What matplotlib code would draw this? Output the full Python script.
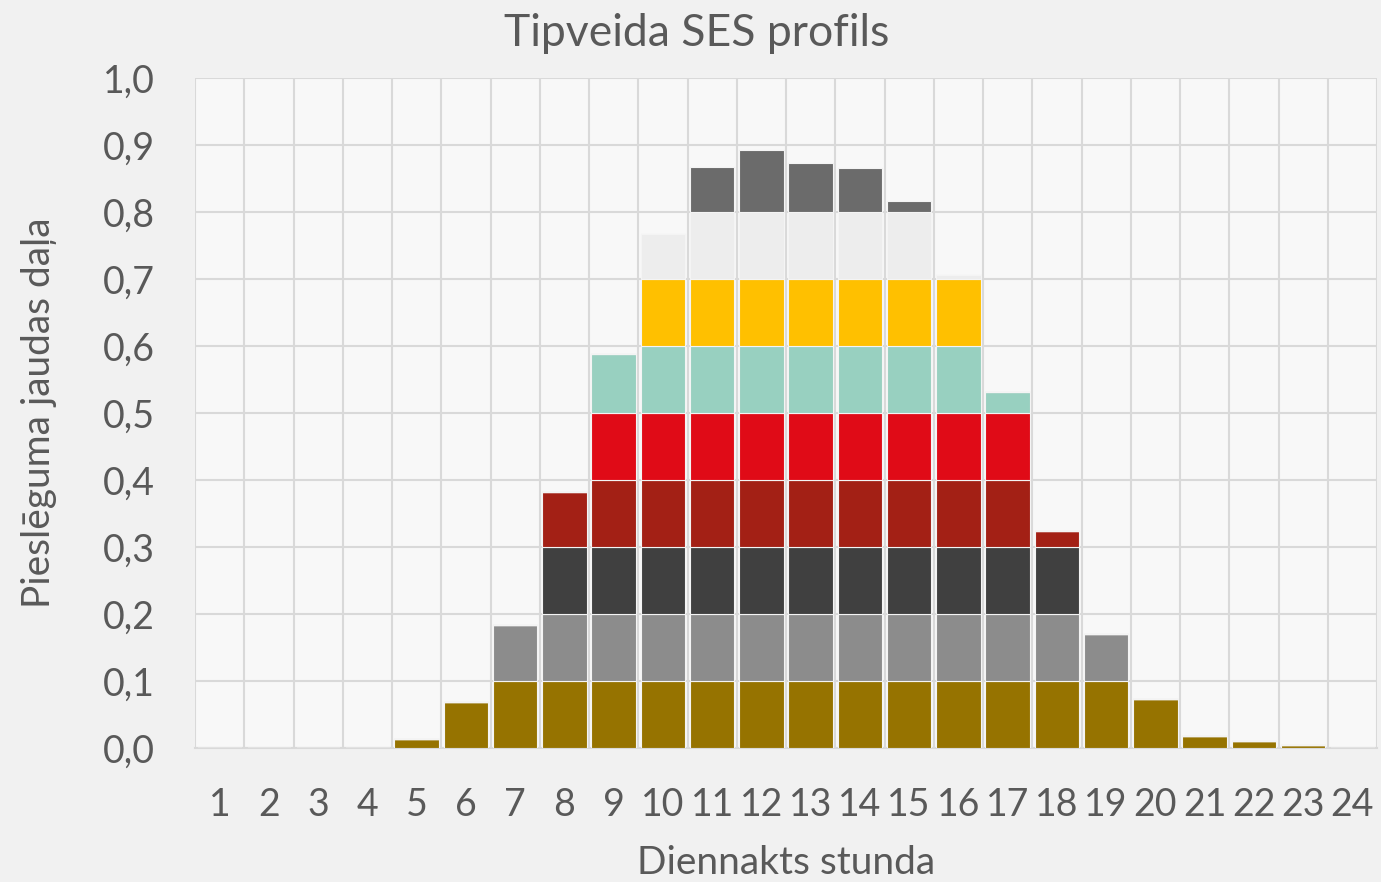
import matplotlib
matplotlib.use("Agg")
import matplotlib.pyplot as plt
from matplotlib.ticker import FixedLocator, FuncFormatter

hours = list(range(1, 25))

# stacked layers (each band 0.1 of connection capacity)
layer1 = [0, 0, 0, 0, 0.014, 0.069, 0.1, 0.1, 0.1, 0.1, 0.1, 0.1, 0.1, 0.1, 0.1, 0.1, 0.1, 0.1, 0.1, 0.073, 0.018, 0.010, 0.004, 0]
layer2 = [0, 0, 0, 0, 0, 0, 0.084, 0.1, 0.1, 0.1, 0.1, 0.1, 0.1, 0.1, 0.1, 0.1, 0.1, 0.1, 0.070, 0, 0, 0, 0, 0]
layer3 = [0, 0, 0, 0, 0, 0, 0, 0.1, 0.1, 0.1, 0.1, 0.1, 0.1, 0.1, 0.1, 0.1, 0.1, 0.1, 0, 0, 0, 0, 0, 0]
layer4 = [0, 0, 0, 0, 0, 0, 0, 0.082, 0.1, 0.1, 0.1, 0.1, 0.1, 0.1, 0.1, 0.1, 0.1, 0.024, 0, 0, 0, 0, 0, 0]
layer5 = [0, 0, 0, 0, 0, 0, 0, 0, 0.1, 0.1, 0.1, 0.1, 0.1, 0.1, 0.1, 0.1, 0.1, 0, 0, 0, 0, 0, 0, 0]
layer6 = [0, 0, 0, 0, 0, 0, 0, 0, 0.088, 0.1, 0.1, 0.1, 0.1, 0.1, 0.1, 0.1, 0.031, 0, 0, 0, 0, 0, 0, 0]
layer7 = [0, 0, 0, 0, 0, 0, 0, 0, 0, 0.1, 0.1, 0.1, 0.1, 0.1, 0.1, 0.1, 0, 0, 0, 0, 0, 0, 0, 0]
layer8 = [0, 0, 0, 0, 0, 0, 0, 0, 0, 0.067, 0.1, 0.1, 0.1, 0.1, 0.1, 0.006, 0, 0, 0, 0, 0, 0, 0, 0]
layer9 = [0, 0, 0, 0, 0, 0, 0, 0, 0, 0, 0.067, 0.093, 0.073, 0.065, 0.017, 0, 0, 0, 0, 0, 0, 0, 0, 0]

layers = [layer1, layer2, layer3, layer4, layer5, layer6, layer7, layer8, layer9]
colors = ["#967300", "#8C8C8C", "#404040", "#A32015", "#E00B17",
          "#98D0C0", "#FFC000", "#EDEDED", "#6B6B6B"]

yticks = [0.0, 0.1, 0.2, 0.3, 0.4, 0.5, 0.6, 0.7, 0.8, 0.9, 1.0]

plt.rcParams['font.family'] = ['Lato', 'DejaVu Sans']

fig = plt.figure(figsize=(13.81, 8.82), dpi=100, facecolor="#F1F1F1")
ax = fig.add_axes([195/1381, (882-748)/882, (1377-195)/1381, (748-78)/882])
ax.set_facecolor("#F8F8F8")

bottom = [0.0]*24
for vals, col in zip(layers, colors):
    ax.bar(hours, vals, bottom=bottom, width=0.9, color=col,
           edgecolor="#F4F4F4", linewidth=0.8, zorder=3)
    bottom = [b + v for b, v in zip(bottom, vals)]

ax.set_xlim(0.5, 24.5)
ax.set_ylim(0, 1.0)
ax.set_xticks(hours)
ax.xaxis.set_minor_locator(FixedLocator([h + 0.5 for h in range(0, 25)]))
ax.set_yticks(yticks)
ax.yaxis.set_major_formatter(FuncFormatter(lambda v, p: f"{v:.1f}".replace(".", ",")))

ax.grid(True, which="major", axis="y", color="#D9D9D9", linewidth=1.5, zorder=0)
ax.grid(True, which="minor", axis="x", color="#D9D9D9", linewidth=1.5, zorder=0)
ax.grid(False, which="major", axis="x")

for s in ["top", "right", "left"]:
    ax.spines[s].set_visible(False)
ax.spines["bottom"].set_color("#D9D9D9")
ax.spines["bottom"].set_linewidth(1.5)

ax.tick_params(axis="both", which="both", length=0, labelsize=27, labelcolor="#595959")
ax.tick_params(axis="x", pad=28)
ax.tick_params(axis="y", pad=29)

fig.text(697/1381, 1 - 33/882, "Tipveida SES profils", fontsize=32, color="#595959",
         ha="center", va="center")
ax.set_xlabel("Diennakts stunda", fontsize=28, color="#595959", labelpad=16)
ax.set_ylabel("Pieslēguma jaudas daļa", fontsize=28, color="#595959", labelpad=33)

fig.savefig("out.png", dpi=100, facecolor=fig.get_facecolor())
